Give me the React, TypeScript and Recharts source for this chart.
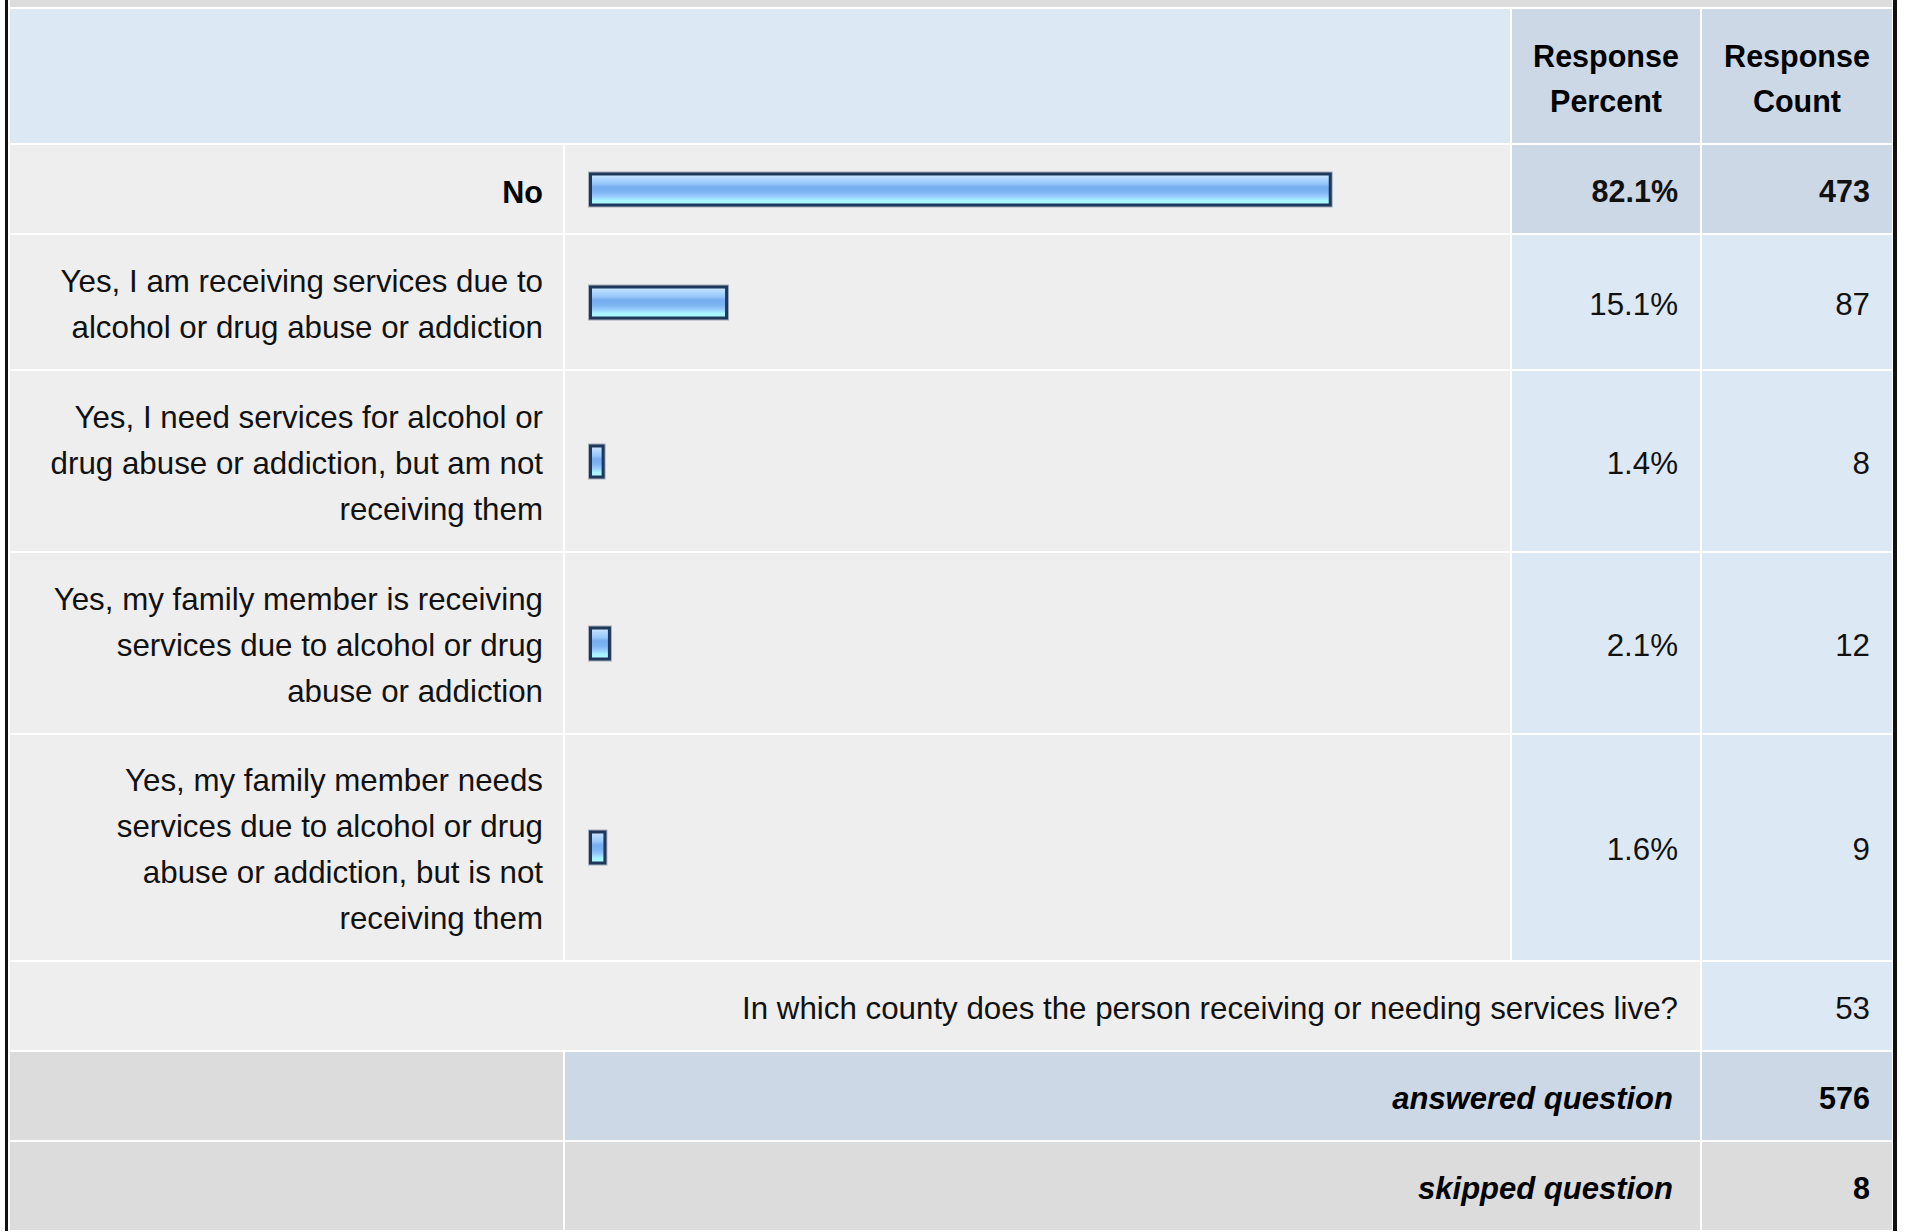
import { Bar, BarChart, XAxis, YAxis } from "recharts";

const answerLabels = [
  "No",
  "Yes, I am receiving services due to\nalcohol or drug abuse or addiction",
  "Yes, I need services for alcohol or\ndrug abuse or addiction, but am not\nreceiving them",
  "Yes, my family member is receiving\nservices due to alcohol or drug\nabuse or addiction",
  "Yes, my family member needs\nservices due to alcohol or drug\nabuse or addiction, but is not\nreceiving them",
];
const responsePercent = [82.1, 15.1, 1.4, 2.1, 1.6];
const responseCount = [473, 87, 8, 12, 9];
const otherQuestion = "In which county does the person receiving or needing services live?";
const otherCount = 53;
const answeredCount = 576;
const skippedCount = 8;

const FONT = "Arial, 'Liberation Sans', Helvetica, sans-serif";
const rowHeights = [88, 134, 180, 180, 225];

const LIGHT_BLUE = "#dde8f5";
const DARK_BLUE = "#ccd8e5";
const ROW_GRAY = "#eeeeee";
const FOOT_GRAY = "#dcdcdc";

function GlossyBar(props: any) {
  const { x, y, width, height, gid } = props;
  if (!width || width <= 0) return null;
  return (
    <g>
      <defs>
        <linearGradient id={gid} x1="0" y1="0" x2="0" y2="1">
          <stop offset="0%" stopColor="#d2e9ff" />
          <stop offset="14%" stopColor="#b3d8ff" />
          <stop offset="30%" stopColor="#99c9fd" />
          <stop offset="42%" stopColor="#76adef" />
          <stop offset="58%" stopColor="#7db4f2" />
          <stop offset="72%" stopColor="#98cbfd" />
          <stop offset="84%" stopColor="#a6f2ff" />
          <stop offset="100%" stopColor="#b2ffff" />
        </linearGradient>
      </defs>
      {/* soft outer edge, then the dark frame */}
      <rect x={x} y={y} width={width} height={height} fill="none" stroke="#1e375a" strokeOpacity={0.35} strokeWidth={5} />
      <rect x={x} y={y} width={width} height={height} fill={`url(#${gid})`} stroke="#1e375a" strokeWidth={3} />
    </g>
  );
}

function RowBar({ label, pct, height, idx }: { label: string; pct: number; height: number; idx: number }) {
  const gid = `glossy-${idx}`;
  return (
    <BarChart
      width={945}
      height={height}
      layout="vertical"
      data={[{ label, pct }]}
      margin={{ top: 0, right: 18.5, bottom: 0, left: 25.5 }}
    >
      <XAxis type="number" domain={[0, 100]} hide />
      <YAxis type="category" dataKey="label" hide />
      <Bar
        dataKey="pct"
        barSize={31}
        isAnimationActive={false}
        shape={(p: any) => <GlossyBar {...p} gid={gid} />}
      />
    </BarChart>
  );
}

const cell = (bg: string, extra: any = {}) => ({
  background: bg,
  display: "flex",
  alignItems: "center",
  justifyContent: "flex-end",
  paddingRight: 22,
  boxSizing: "border-box" as const,
  ...extra,
});

export default function App() {
  return (
    <div style={{ position: "absolute", left: 0, top: 0, width: 1907, height: 1232, background: "#fff", fontFamily: FONT, color: "#111" }}>
      <div style={{ position: "absolute", left: 5, top: 0, width: 3, height: 1231, background: "#111" }} />
      <div style={{ position: "absolute", left: 1893, top: 0, width: 4, height: 1231, background: "#111" }} />
      <div
        style={{
          position: "absolute",
          left: 10,
          top: 0,
          width: 1882,
          height: 1230,
          display: "grid",
          gridTemplateColumns: "553px 945px 188px 190px",
          gridTemplateRows: `7px 134px ${rowHeights.map((h) => h + "px").join(" ")} 88px 88px 88px`,
          gap: 2,
          background: "#fff",
        }}
      >
        <div style={{ gridColumn: "1 / 5", background: FOOT_GRAY }} />

        <div style={{ gridColumn: "1 / 3", background: LIGHT_BLUE }} />
        {["Response\nPercent", "Response\nCount"].map((t) => (
          <div
            key={t}
            style={cell(DARK_BLUE, {
              justifyContent: "center",
              paddingRight: 0,
              paddingTop: 5,
              whiteSpace: "pre-line",
              textAlign: "center",
              fontWeight: "bold",
              fontSize: 30.5,
              lineHeight: "45px",
              color: "#000",
            })}
          >
            {t}
          </div>
        ))}

        {answerLabels.map((label, i) => {
          const top = i === 0;
          const bg = top ? DARK_BLUE : LIGHT_BLUE;
          const weight = top ? "bold" : "normal";
          const size = top ? 30.5 : 31.3;
          return [
            <div
              key={"l" + i}
              style={cell(ROW_GRAY, {
                whiteSpace: "pre-line",
                textAlign: "right",
                fontWeight: weight,
                fontSize: size,
                lineHeight: "46px",
                paddingTop: 5,
                paddingRight: 20,
                color: top ? "#000" : "#111",
              })}
            >
              {label}
            </div>,
            <div key={"b" + i} style={{ background: ROW_GRAY }}>
              <RowBar label={label} pct={responsePercent[i]} height={rowHeights[i]} idx={i} />
            </div>,
            <div key={"p" + i} style={cell(bg, { fontWeight: weight, fontSize: size, paddingTop: 5 })}>
              {responsePercent[i].toFixed(1)}%
            </div>,
            <div key={"c" + i} style={cell(bg, { fontWeight: weight, fontSize: size, paddingTop: 5 })}>
              {responseCount[i]}
            </div>,
          ];
        })}

        <div style={cell(ROW_GRAY, { gridColumn: "1 / 4", fontSize: 31.3, paddingRight: 22, paddingTop: 5 })}>{otherQuestion}</div>
        <div style={cell(LIGHT_BLUE, { fontSize: 31.3, paddingTop: 5 })}>{otherCount}</div>

        <div style={{ background: FOOT_GRAY }} />
        <div style={cell(DARK_BLUE, { gridColumn: "2 / 4", fontWeight: "bold", fontStyle: "italic", fontSize: 31, paddingRight: 27, paddingTop: 5, color: "#000" })}>
          answered question
        </div>
        <div style={cell(DARK_BLUE, { fontWeight: "bold", fontSize: 30.5, paddingTop: 5, color: "#000" })}>{answeredCount}</div>

        <div style={{ background: FOOT_GRAY }} />
        <div style={cell(FOOT_GRAY, { gridColumn: "2 / 4", fontWeight: "bold", fontStyle: "italic", fontSize: 31, paddingRight: 27, paddingTop: 5, color: "#000" })}>
          skipped question
        </div>
        <div style={cell(FOOT_GRAY, { fontWeight: "bold", fontSize: 30.5, paddingTop: 5, color: "#000" })}>{skippedCount}</div>
      </div>
    </div>
  );
}
